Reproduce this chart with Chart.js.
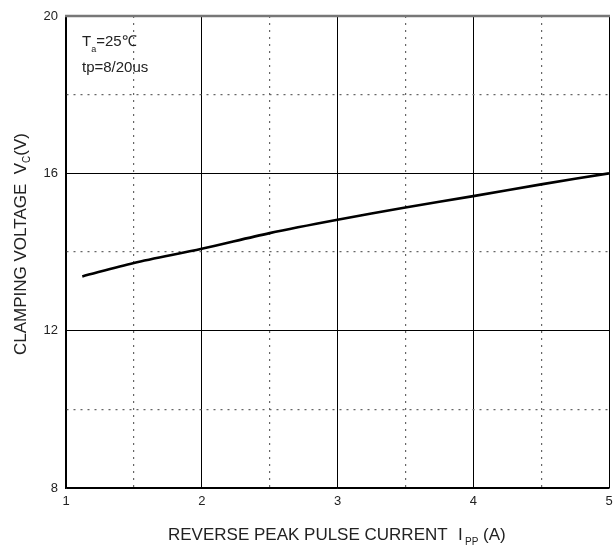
<!DOCTYPE html>
<html>
<head>
<meta charset="utf-8">
<script src="https://cdn.jsdelivr.net/npm/chart.js@4/dist/chart.umd.min.js"></script>
<style>
    html, body { margin: 0; padding: 0; background: #fff; }
    #wrap { width: 614px; height: 548px; position: relative; }
</style>
</head>
<body>
<div id="wrap"><canvas id="clampChart"></canvas></div>
<script>
// reverse peak pulse current (A) and clamping voltage (V)
const currentA = [1.12, 1.5, 2, 2.5, 3, 3.5, 4, 4.5, 5];
const clampV = [13.38, 13.72, 14.08, 14.48, 14.82, 15.13, 15.42, 15.72, 16.0];

const xMajorTicks = [1, 2, 3, 4, 5];
const yMajorTicks = [8, 12, 16, 20];

const FONT = '"Liberation Sans", Arial, sans-serif';

function isMajor(value, majors) {
    return majors.some((m) => Math.abs(m - value) < 1e-6);
}

// axis titles and the condition note need subscripts, so draw them by hand
const labelsPlugin = {
    id: 'labels',
    afterDraw(chart) {
        const { ctx } = chart;
        ctx.save();
        ctx.fillStyle = '#222';
        ctx.textBaseline = 'alphabetic';
        ctx.textAlign = 'left';

        // x title
        ctx.font = `17px ${FONT}`;
        const y = 540;
        ctx.fillText('REVERSE PEAK PULSE CURRENT', 168, y);
        ctx.fillText('I', 458, y);
        ctx.font = `10px ${FONT}`;
        ctx.fillText('PP', 465, y + 5);
        ctx.font = `17px ${FONT}`;
        ctx.fillText('(A)', 483, y);

        // y title, rotated
        ctx.save();
        ctx.translate(26, 355);
        ctx.rotate(-Math.PI / 2);
        ctx.font = `17px ${FONT}`;
        const ytxt = 'CLAMPING VOLTAGE  V';
        ctx.fillText(ytxt, 0, 0);
        let yx = ctx.measureText(ytxt).width;
        ctx.font = `10px ${FONT}`;
        ctx.fillText('C', yx, 4);
        yx += ctx.measureText('C').width;
        ctx.font = `17px ${FONT}`;
        ctx.fillText('(V)', yx, 0);
        ctx.restore();

        // test conditions
        ctx.font = `15px ${FONT}`;
        ctx.fillText('T', 82, 46);
        let tx = 82 + ctx.measureText('T').width;
        ctx.font = `9px ${FONT}`;
        ctx.fillText('a', tx, 52);
        tx += ctx.measureText('a').width;
        ctx.font = `15px ${FONT}`;
        ctx.fillText('=25\u2103', tx, 46);
        ctx.fillText('tp=8/20us', 82, 72);

        // heavier grey frame on top
        const area = chart.chartArea;
        ctx.strokeStyle = '#777';
        ctx.lineWidth = 2.5;
        ctx.beginPath();
        ctx.moveTo(area.left - 1, area.top);
        ctx.lineTo(area.right + 1, area.top);
        ctx.stroke();
        ctx.restore();
    },
};

new Chart(document.getElementById('clampChart'), {
    type: 'line',
    data: {
        datasets: [{
            data: currentA.map((v, i) => ({ x: v, y: clampV[i] })),
            borderColor: '#000',
            borderWidth: 2.6,
            pointRadius: 0,
            tension: 0.3,
            fill: false,
        }],
    },
    options: {
        responsive: true,
        maintainAspectRatio: false,
        animation: false,
        events: [],
        layout: { padding: { top: 16, right: 5, left: 0, bottom: 0 } },
        plugins: { legend: { display: false }, tooltip: { enabled: false } },
        scales: {
            x: {
                type: 'linear',
                min: 1,
                max: 5,
                afterFit: (scale) => {
                    scale.height = 60;
                    scale.paddingRight = 0;
                    scale.paddingLeft = 0;
                },
                ticks: {
                    stepSize: 0.5,
                    autoSkip: false,
                    maxRotation: 0,
                    padding: 6,
                    color: '#222',
                    font: { family: FONT, size: 13 },
                    callback: (v) => (isMajor(v, xMajorTicks) ? String(v) : ''),
                },
                grid: {
                    drawTicks: false,
                    color: (c) => (c.tick && !isMajor(c.tick.value, xMajorTicks) ? '#666' : '#000'),
                    lineWidth: (c) => (c.tick && !isMajor(c.tick.value, xMajorTicks) ? 1.2 : 1),
                },
                border: {
                    color: '#000',
                    width: 1.5,
                    dash: (c) => (c.tick && !isMajor(c.tick.value, xMajorTicks) ? [2, 5] : []),
                },
            },
            y: {
                type: 'linear',
                min: 8,
                max: 20,
                afterFit: (scale) => { scale.width = 66; },
                ticks: {
                    stepSize: 2,
                    autoSkip: false,
                    padding: 8,
                    color: '#222',
                    font: { family: FONT, size: 13 },
                    callback: (v) => (isMajor(v, yMajorTicks) ? String(v) : ''),
                },
                grid: {
                    drawTicks: false,
                    color: (c) => (c.tick && !isMajor(c.tick.value, yMajorTicks) ? '#666' : '#000'),
                    lineWidth: (c) => (c.tick && !isMajor(c.tick.value, yMajorTicks) ? 1.2 : 1),
                },
                border: {
                    color: '#000',
                    width: 1.5,
                    dash: (c) => (c.tick && !isMajor(c.tick.value, yMajorTicks) ? [2, 5] : []),
                },
            },
        },
    },
    plugins: [labelsPlugin],
});
</script>
</body>
</html>
